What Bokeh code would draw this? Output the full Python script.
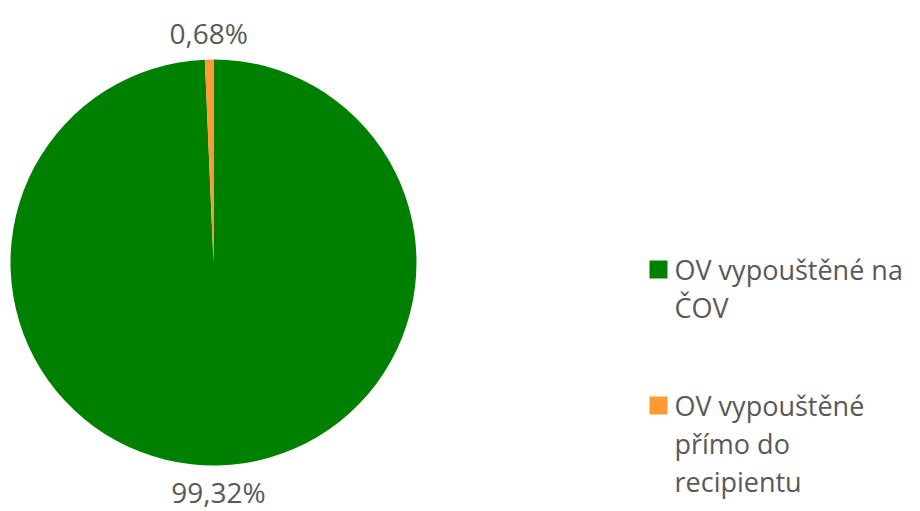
import math
from bokeh.plotting import figure
from bokeh.models import Range1d, ColumnDataSource
from bokeh.core.properties import value
from bokeh.embed import file_html
from bokeh.resources import INLINE

# ---- data ----
categories = ["OV vypouštěné na\nČOV", "OV vypouštěné\npřímo do\nrecipientu"]
shares = [99.32, 0.68]
labels = ["99,32%", "0,68%"]
colors = ["#008000", "#FF9933"]

W, H = 904, 511
FONT = "Open Sans"
TXT = "#595959"

p = figure(width=W, height=H, output_backend="svg", toolbar_location=None,
           x_range=Range1d(0, W), y_range=Range1d(0, H), min_border=0)
p.axis.visible = False
p.grid.visible = False
p.outline_line_color = None
p.background_fill_color = "white"
p.border_fill_color = "white"

cx, cy, R = 213, H - 262, 203
label_r = 230

total = sum(shares)
a = math.pi / 2
ang = {}
for i in [1, 0]:
    sweep = shares[i] / total * 2 * math.pi
    ang[i] = (a, a + sweep)
    a += sweep
starts = [ang[i][0] for i in range(len(shares))]
ends = [ang[i][1] for i in range(len(shares))]
mids = [(s + e) / 2 for s, e in zip(starts, ends)]

src = ColumnDataSource(dict(x=[cx] * len(shares), y=[cy] * len(shares),
                            s=starts, e=ends, c=colors))
p.wedge(x="x", y="y", radius=R, radius_units="screen", start_angle="s",
        end_angle="e", fill_color="c", line_color=None, source=src)

lx = [cx + label_r * math.cos(m) for m in mids]
ly = [cy + label_r * math.sin(m) for m in mids]
p.text(x=lx, y=ly, text=labels, text_align="center", text_baseline="middle",
       text_font=value(FONT), text_font_size="28px", text_color=TXT)

# ---- legend ----
leg_x, sq_x = 674, 649
top_base = H - 278
entry_gap = 136
line_h = 38
sq = 18
for k, (cat, col) in enumerate(zip(categories, colors)):
    b0 = top_base - k * entry_gap
    p.rect(x=[sq_x + sq / 2], y=[b0 + sq / 2], width=sq, height=sq,
           width_units="screen", height_units="screen",
           fill_color=col, line_color=None)
    lines = cat.split("\n")
    p.text(x=[leg_x] * len(lines), y=[b0 + 9 - j * line_h for j in range(len(lines))],
           text=lines, text_align="left", text_baseline="middle",
           text_font=value(FONT), text_font_size="27px", text_color=TXT)

open("out.html", "w").write(file_html(p, INLINE))
